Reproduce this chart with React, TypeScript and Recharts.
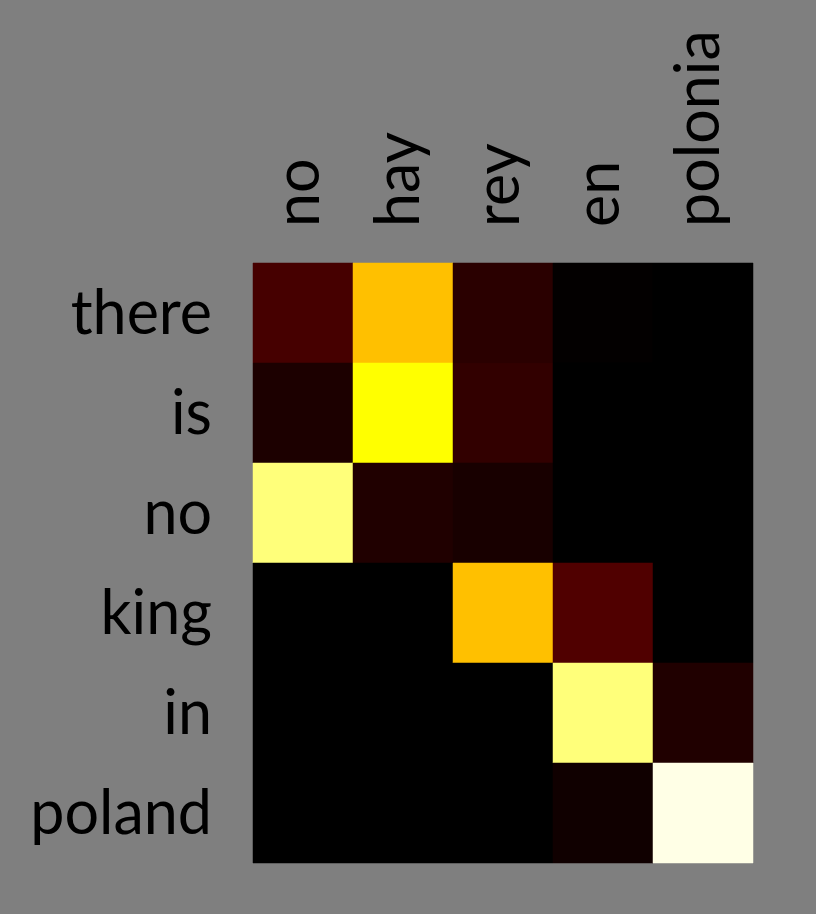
import React from "react";
import { BarChart, Bar, XAxis, YAxis, Cell } from "recharts";

// Source words (columns) and target words (rows)
const sourceWords = ["no", "hay", "rey", "en", "polonia"];
const targetWords = ["there", "is", "no", "king", "in", "poland"];

// Attention weights, one array per target word (row)
const rowThere = [0.103, 0.657, 0.062, 0.004, 0];
const rowIs = [0.041, 0.75, 0.0735, 0, 0];
const rowNo = [0.87, 0.047, 0.035, 0, 0];
const rowKing = [0, 0, 0.657, 0.118, 0];
const rowIn = [0, 0, 0, 0.87, 0.047];
const rowPoland = [0, 0, 0, 0.0235, 0.9755];

const weights = [rowThere, rowIs, rowNo, rowKing, rowIn, rowPoland];
const colTicks = sourceWords.map((_, i) => i + 0.5);

const clamp = (v: number) => Math.max(0, Math.min(1, v));
const hot = (v: number) => {
  const r = Math.round(clamp((v * 8) / 3) * 255);
  const g = Math.round(clamp((v * 8) / 3 - 1) * 255);
  const b = Math.round(clamp(4 * v - 3) * 255);
  return `rgb(${r},${g},${b})`;
};

const data = targetWords.map((w) => {
  const row: any = { word: w };
  sourceWords.forEach((_, c) => {
    row["c" + c] = 1;
  });
  return row;
});

const FONT = "Lato, 'Open Sans', sans-serif";
const FS = 61;

const TopTick = (props: any) => {
  const { x, payload } = props;
  const label = sourceWords[Math.round(payload.value - 0.5)];
  return (
    <text
      transform={`translate(${x + 16},${227}) rotate(-90)`}
      textAnchor="start"
      fontFamily={FONT}
      fontSize={FS}
      fill="#000"
    >
      {label}
    </text>
  );
};

const LeftTick = (props: any) => {
  const { y, payload } = props;
  return (
    <text
      x={212}
      y={y + 21}
      textAnchor="end"
      fontFamily={FONT}
      fontSize={FS}
      fill="#000"
    >
      {payload.value}
    </text>
  );
};

export default function App() {
  return (
    <div
      style={{
        position: "absolute",
        left: 0,
        top: 0,
        width: 816,
        height: 914,
        background: "#7f7f7f",
      }}
    >
      <BarChart
        width={816}
        height={914}
        data={data}
        layout="vertical"
        barCategoryGap={0}
        barGap={0}
        margin={{ top: 0, right: 63, bottom: 51, left: 0 }}
      >
        <XAxis
          type="number"
          orientation="top"
          domain={[0, 5]}
          ticks={colTicks}
          height={263}
          axisLine={false}
          tickLine={false}
          tick={<TopTick />}
          interval={0}
        />
        <YAxis
          type="category"
          dataKey="word"
          width={253}
          axisLine={false}
          tickLine={false}
          tick={<LeftTick />}
          interval={0}
        />
        {sourceWords.map((_, c) => (
          <Bar
            key={c}
            dataKey={"c" + c}
            stackId="a"
            isAnimationActive={false}
          >
            {targetWords.map((_, r) => (
              <Cell
                key={r}
                fill={hot(weights[r][c])}
                stroke={hot(weights[r][c])}
                strokeWidth={0.5}
              />
            ))}
          </Bar>
        ))}
      </BarChart>
    </div>
  );
}
